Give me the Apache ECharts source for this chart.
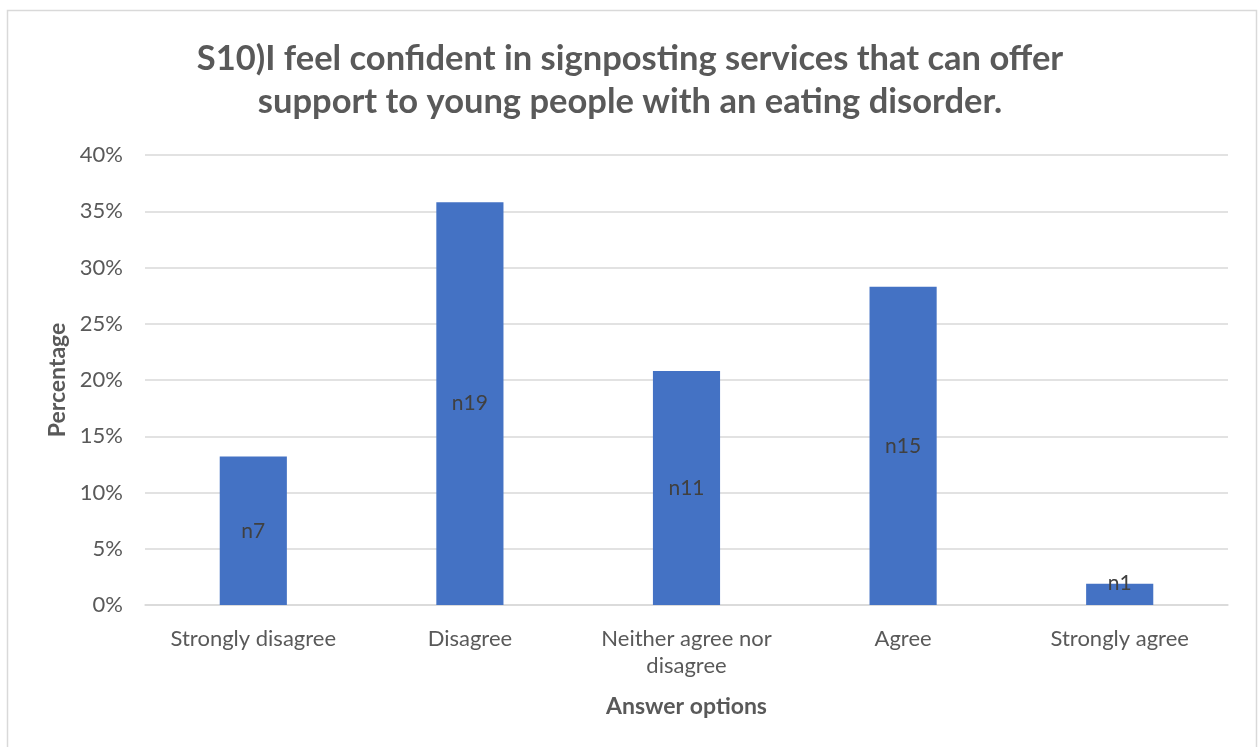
<!DOCTYPE html>
<html><head><meta charset="utf-8">
<script src="https://cdn.jsdelivr.net/npm/echarts@6/dist/echarts.min.js"></script>
<style>html,body{margin:0;padding:0;background:#fff}#c{width:1260px;height:747px}</style>
</head><body><div id="c"></div>
<script>
const categories = ['Strongly disagree', 'Disagree', 'Neither agree nor\ndisagree', 'Agree', 'Strongly agree'];
const percentages = [13.2, 35.8, 20.8, 28.3, 1.9];
const labels = ['n7', 'n19', 'n11', 'n15', 'n1'];
const yTicks = [0, 5, 10, 15, 20, 25, 30, 35, 40];

const FONT = 'Lato, "Open Sans", sans-serif';
const chart = echarts.init(document.getElementById('c'));
chart.setOption({
  animation: false,
  backgroundColor: '#fff',
  graphic: [{type: 'rect', shape: {x: 7.5, y: 10.5, width: 1249, height: 760}, style: {fill: 'none', stroke: '#d9d9d9', lineWidth: 1.5}, silent: true}],
  title: {
    text: 'S10)I feel confident in signposting services that can offer\nsupport to young people with an eating disorder.',
    left: 'center', top: 32,
    textStyle: {fontFamily: FONT, fontSize: 34.5, fontWeight: 'bold', color: '#595959', lineHeight: 43}
  },
  grid: {left: 145, right: 32, top: 155, bottom: 142},
  xAxis: {
    type: 'category', data: categories,
    name: 'Answer options', nameLocation: 'middle', nameGap: 90,
    nameTextStyle: {fontFamily: FONT, fontSize: 23, fontWeight: 'bold', color: '#595959'},
    axisLine: {lineStyle: {color: '#d9d9d9', width: 1.5}},
    axisTick: {show: false},
    axisLabel: {fontFamily: FONT, fontSize: 22, color: '#595959', margin: 20, lineHeight: 27, interval: 0}
  },
  yAxis: {
    type: 'value', min: yTicks[0], max: yTicks[yTicks.length - 1], interval: 5,
    name: 'Percentage', nameLocation: 'middle', nameGap: 75,
    nameTextStyle: {fontFamily: FONT, fontSize: 23, fontWeight: 'bold', color: '#595959'},
    axisLine: {show: false}, axisTick: {show: false},
    splitLine: {lineStyle: {color: '#d9d9d9', width: 1.5}},
    axisLabel: {fontFamily: FONT, fontSize: 22, color: '#595959', margin: 22, formatter: v => v + '%'}
  },
  series: [{
    type: 'bar', barWidth: '31%',
    itemStyle: {color: '#4472c4'},
    data: percentages.map((v, i) => i === 4
      ? {value: v, label: {position: 'top', distance: -10}}
      : {value: v}),
    label: {show: true, position: 'inside', fontFamily: FONT, fontSize: 21, color: '#404040',
      formatter: p => labels[p.dataIndex]}
  }]
});
</script></body></html>
